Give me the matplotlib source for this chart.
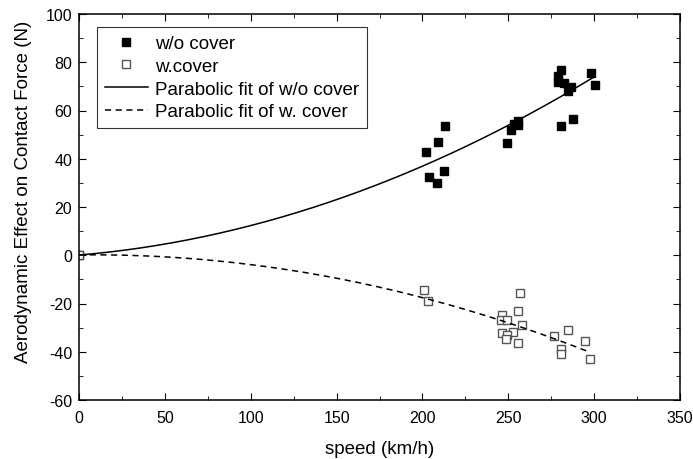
import numpy as np
import matplotlib.pyplot as plt
from matplotlib.ticker import MultipleLocator

plt.rcParams['font.family'] = ['Liberation Sans', 'DejaVu Sans']
plt.rcParams['axes.unicode_minus'] = False

# measured points, w/o cover
speed_wo = [0, 212.9, 209.0, 201.9, 212.7, 204.0, 208.3, 249.5, 251.5, 255.7, 255.7, 253.4,
            280.8, 287.4, 280.8, 279.0, 278.7, 282.6, 286.5, 284.5, 298.3, 300.5]
force_wo = [0, 53.5, 47.1, 43.0, 35.1, 32.4, 29.9, 46.5, 52.1, 55.6, 53.8, 54.6,
            53.5, 56.3, 76.8, 74.3, 72.0, 71.5, 69.9, 68.1, 75.4, 70.7]

# measured points, with cover
speed_w = [0, 200.9, 203.4, 256.9, 255.4, 246.6, 245.6, 249.5, 257.9, 253.0, 246.6,
           249.5, 248.5, 255.9, 276.7, 284.9, 294.8, 280.6, 280.6, 297.3]
force_w = [0, -14.2, -18.8, -15.7, -23.2, -24.7, -26.8, -26.8, -28.9, -31.7, -32.2,
           -32.9, -34.7, -36.2, -33.5, -31.1, -35.6, -38.9, -41.0, -42.9]

# parabolic fits
fit_wo = np.polyfit(speed_wo, force_wo, 2)
fit_w = np.polyfit(speed_w, force_w, 2)

fig = plt.figure(figsize=(6.93, 4.6), dpi=100)
ax = fig.add_axes([79/693, 59/460, 601/693, 386/460])

ax.plot(speed_wo, force_wo, 's', color='black', markersize=6, label='w/o cover')
ax.plot(speed_w, force_w, 's', markerfacecolor='white', markeredgecolor='#555555',
        markersize=6, markeredgewidth=1.0, label='w.cover')

xs = np.linspace(0, 300, 200)
ax.plot(xs, np.polyval(fit_wo, xs), '-', color='black', lw=1.1, label='Parabolic fit of w/o cover')
xw = xs[xs <= 297]
ax.plot(xw, np.polyval(fit_w, xw), '--', color='black', lw=1.1,
        dashes=(4, 3), label='Parabolic fit of w. cover')

ax.set_xlim(0, 350)
ax.set_ylim(-60, 100)
ax.xaxis.set_major_locator(MultipleLocator(50))
ax.xaxis.set_minor_locator(MultipleLocator(25))
ax.yaxis.set_major_locator(MultipleLocator(20))
ax.yaxis.set_minor_locator(MultipleLocator(10))
ax.tick_params(which='both', direction='in', top=True, right=True, labelsize=11.5, pad=5)
ax.tick_params(axis='x', which='both', pad=7)
ax.tick_params(which='major', length=5)
ax.tick_params(which='minor', length=3)
for s in ax.spines.values():
    s.set_linewidth(1.1)
ax.set_xlabel('speed (km/h)', fontsize=13.5, labelpad=11)
ax.set_ylabel('Aerodynamic Effect on Contact Force (N)', fontsize=13.5)
ax.yaxis.set_label_coords(-0.078, 0.543)

leg = ax.legend(loc='upper left', bbox_to_anchor=(0.03, 0.966), borderaxespad=0,
                fontsize=13.5, frameon=True, fancybox=False, edgecolor='black',
                handlelength=2.3, handletextpad=0.35, labelspacing=0.3,
                markerscale=0.85, borderpad=0.42)
leg.get_frame().set_linewidth(0.8)

fig.savefig('out.png', dpi=100)
